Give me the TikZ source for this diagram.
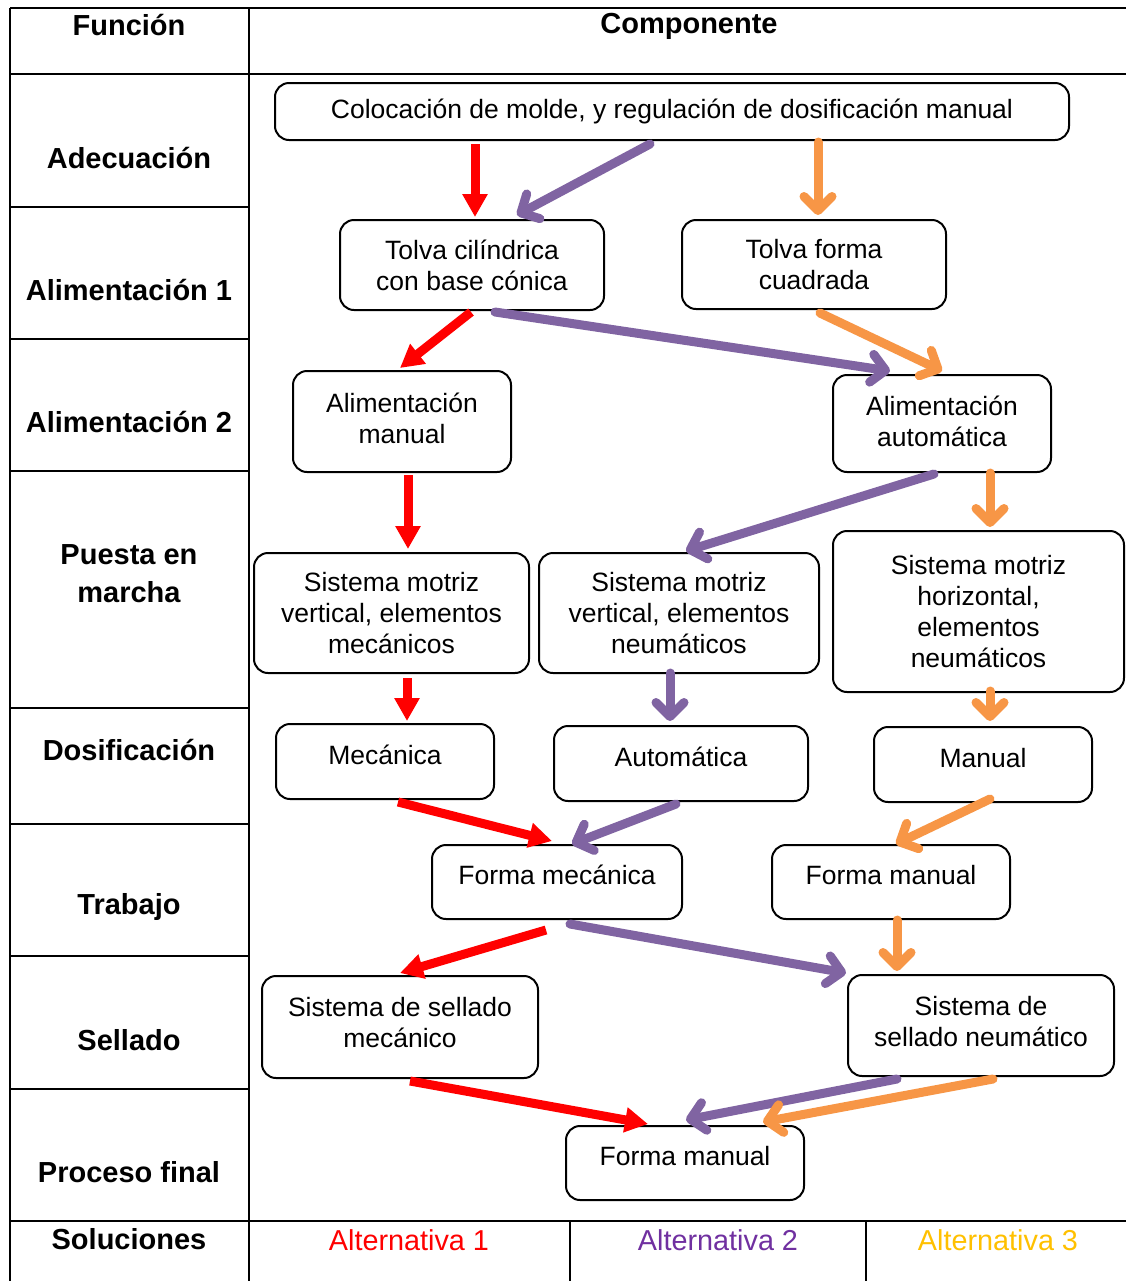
\documentclass[tikz,border=0pt]{standalone}
\usepackage{fontspec}
\setmainfont{Liberation Sans}
\usetikzlibrary{arrows.meta,calc}

\definecolor{morado}{HTML}{8064A2}
\definecolor{naranja}{HTML}{F79646}
\definecolor{moradotxt}{HTML}{7030A0}
\definecolor{oro}{HTML}{FFC000}

\begin{document}
\begin{tikzpicture}[x=0.5pt, y=-0.5pt,
  font=\fontsize{13.25}{15.5}\selectfont,
  caja/.style={draw, rounded corners=7pt, line width=1pt, align=center, inner sep=0pt},
  arriba/.style={text depth=7pt},
  fila/.style={font=\fontsize{14.5}{19}\selectfont\bfseries, align=center},
  alt/.style={font=\fontsize{14.4}{17}\selectfont},
  rojo/.style={red, line width=4.5pt, -{Triangle[length=11.5pt,width=12pt]}},
  lila/.style={morado, line width=4.5pt, line cap=round, -{Straight Barb[length=7pt,width=14pt,round]}},
  nar/.style={naranja, line width=4.5pt, line cap=round, -{Straight Barb[length=7pt,width=14pt,round]}}]

\useasboundingbox (0,0) rectangle (1126,1281);

% tabla
\draw[line width=1.3pt] (10,8) -- (1126,8);
\draw[line width=1.3pt] (10,74) -- (1126,74);
\draw[line width=1.3pt] (10,1221) -- (1126,1221);
\draw[line width=1.3pt] (10,8) -- (10,1281);
\draw[line width=1.3pt] (249,8) -- (249,1281);
\draw[line width=1.3pt] (570,1221) -- (570,1281);
\draw[line width=1.3pt] (866,1221) -- (866,1281);
\draw[line width=1.3pt] (10,207) -- (249,207);
\draw[line width=1.3pt] (10,339) -- (249,339);
\draw[line width=1.3pt] (10,471) -- (249,471);
\draw[line width=1.3pt] (10,708) -- (249,708);
\draw[line width=1.3pt] (10,824) -- (249,824);
\draw[line width=1.3pt] (10,956) -- (249,956);
\draw[line width=1.3pt] (10,1089) -- (249,1089);

\node[fila] (funcion) at (129,25) {Función};
\node[fila] (componente) at (689,26) {Componente};
\node[fila] (adecuacion) at (129,158) {Adecuación};
\node[fila] (alim1) at (129,290) {Alimentación 1};
\node[fila] (alim2) at (129,422) {Alimentación 2};
\node[fila] (puesta) at (129,574) {Puesta en\\marcha};
\node[fila] (dosif) at (129,750) {Dosificación};
\node[fila] (trabajo) at (129,907) {Trabajo};
\node[fila] (sellado) at (129,1040) {Sellado};
\node[fila] (proceso) at (129,1172) {Proceso final};
\node[fila] (soluciones) at (129,1239) {Soluciones};

\node[alt, text=red] (alt1) at (409,1240) {Alternativa 1};
\node[alt, text=moradotxt] (alt2) at (718,1240) {Alternativa 2};
\node[alt, text=oro] (alt3) at (998,1240) {Alternativa 3};

% componentes
\node[caja, minimum width=397pt, minimum height=28.5pt] (colocacion) at (672,111.5) {Colocación de molde, y regulación de dosificación manual};
\node[caja, minimum width=132pt, minimum height=45pt] (tolvac) at (472,265) {Tolva cilíndrica\\con base cónica};
\node[caja, minimum width=132pt, minimum height=44.5pt] (tolvaq) at (814,264.5) {Tolva forma\\cuadrada};
\node[caja, minimum width=109pt, minimum height=50.5pt, text depth=3pt] (alimm) at (402,421.5) {Alimentación\\manual};
\node[caja, minimum width=109pt, minimum height=48.5pt, text depth=2pt] (alima) at (942,423.5) {Alimentación\\automática};
\node[caja, minimum width=137.5pt, minimum height=60pt] (motmec) at (391.5,613) {Sistema motriz\\vertical, elementos\\mecánicos};
\node[caja, minimum width=140pt, minimum height=60pt] (motneu) at (679,613) {Sistema motriz\\vertical, elementos\\neumáticos};
\node[caja, minimum width=145.5pt, minimum height=80.5pt] (mothor) at (978.5,611.5) {Sistema motriz\\horizontal,\\elementos\\neumáticos};
\node[caja, arriba, minimum width=109pt, minimum height=37.5pt] (mec) at (385,761.5) {Mecánica};
\node[caja, arriba, minimum width=127pt, minimum height=37.5pt] (aut) at (681,763.5) {Automática};
\node[caja, arriba, minimum width=109pt, minimum height=37.5pt] (man) at (983,764.5) {Manual};
\node[caja, arriba, minimum width=125pt, minimum height=37pt] (fmec) at (557,882) {Forma mecánica};
\node[caja, arriba, minimum width=119pt, minimum height=37pt] (fman) at (891,882) {Forma manual};
\node[caja, minimum width=138pt, minimum height=51pt, text depth=5pt] (selmec) at (400,1027) {Sistema de sellado\\mecánico};
\node[caja, minimum width=133pt, minimum height=50.5pt, text depth=4pt] (selneu) at (981,1025.5) {Sistema de\\sellado neumático};
\node[caja, arriba, minimum width=119pt, minimum height=37pt] (ffin) at (685,1163) {Forma manual};

% alternativa 1
\draw[rojo] ($(colocacion.south)+(-197,3)$) to ($(tolvac.north)+(3,-2)$);
\draw[rojo] ($(tolvac.south)+(-1,1)$) to ($(alimm.north)+(-2,-2)$);
\draw[rojo] ($(alimm.south)+(6,2)$) to ($(motmec.north)+(16.5,-3)$);
\draw[rojo] ($(motmec.south)+(15.5,4)$) to ($(mec.north)+(22,-2)$);
\draw[rojo] ($(mec.south)+(13,2)$) to ($(fmec.north)+(-5,-3)$);
\draw[rojo] ($(fmec.south)+(-11,10)$) to ($(selmec.north)+(0,-2)$);
\draw[rojo] ($(selmec.south)+(10,2)$) to ($(ffin.north)+(-37,-1)$);

% alternativa 2
\draw[lila] ($(colocacion.south)+(-22,3)$) to ($(tolvac.north)+(45,-4)$);
\draw[lila] ($(tolvac.south)+(23,1)$) to ($(alima.north)+(-52,-3)$);
\draw[lila] ($(alima.south)+(-8,1)$) to ($(motneu.north)+(7,-1)$);
\draw[lila] ($(motneu.south)+(-9,-1)$) to ($(aut.north)+(-11,-4)$);
\draw[lila] ($(aut.south)+(-5,2)$) to ($(fmec.north)+(15,0)$);
\draw[lila] ($(fmec.south)+(13,4)$) to ($(selneu.north)+(-135,-1)$);
\draw[lila] ($(selneu.south)+(-84,2)$) to ($(ffin.north)+(1,-5)$);

% alternativa 3
\draw[nar] ($(colocacion.south)+(146,1)$) to ($(tolvaq.north)+(4,-4)$);
\draw[nar] ($(tolvaq.south)+(6,3)$) to ($(alima.north)+(0,-3)$);
\draw[nar] ($(alima.south)+(48,0)$) to ($(mothor.north)+(11.5,-3)$);
\draw[nar] ($(mothor.south)+(11.5,-2)$) to ($(man.north)+(7,-5)$);
\draw[nar] ($(man.south)+(7,-4)$) to ($(fman.north)+(5,0)$);
\draw[nar] ($(fman.south)+(6,0)$) to ($(selneu.north)+(-84,-3)$);
\draw[nar] ($(selneu.south)+(12,2)$) to ($(ffin.north)+(78,-3)$);

\end{tikzpicture}
\end{document}
